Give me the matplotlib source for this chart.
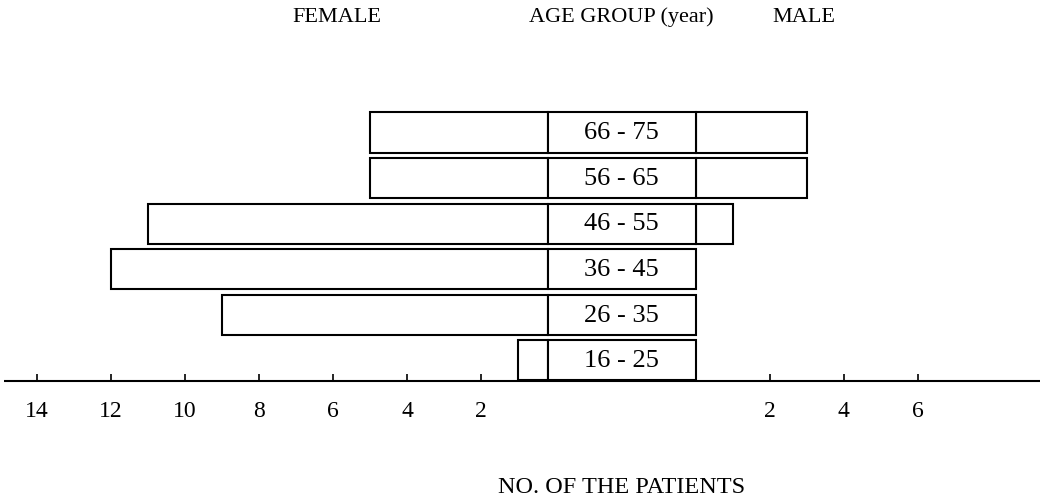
import matplotlib
matplotlib.use("Agg")
import matplotlib.pyplot as plt

age_groups = ["16 - 25", "26 - 35", "36 - 45", "46 - 55", "56 - 65", "66 - 75"]
female = [1, 9, 12, 11, 5, 5]
male = [0, 0, 0, 1, 3, 3]
female_ticks = [14, 12, 10, 8, 6, 4, 2]
male_ticks = [2, 4, 6]

plt.rcParams['font.family'] = ['Liberation Serif', 'DejaVu Serif']

BOX = 2.0      # half width of the central label box
FZ = -1.8      # female zero on the axis
MZ = 2.0       # male zero on the axis
H = 0.88
LW = 1.5

fig = plt.figure(figsize=(10.4, 4.99), dpi=100)
ax = fig.add_axes([0, 0, 1, 1])
ax.set_xlim(-16.8, 11.31)
ax.set_ylim(-3.05, 7.91)
ax.axis('off')

ys = list(range(len(age_groups)))
# central label boxes
ax.barh(ys, [2 * BOX] * len(ys), left=-BOX, height=H, color='white',
        edgecolor='black', linewidth=LW, zorder=3)
for y, lab in zip(ys, age_groups):
    ax.text(0, y - 0.02, lab, ha='center', va='center', fontsize=19, zorder=4)

# female bars
for y, v in zip(ys, female):
    if v > 0:
        ax.barh(y, (-BOX) - (FZ - v), left=FZ - v, height=H, color='white',
                edgecolor='black', linewidth=LW, zorder=2)
# male bars
for y, v in zip(ys, male):
    if v > 0:
        ax.barh(y, (MZ + v) - BOX, left=BOX, height=H, color='white',
                edgecolor='black', linewidth=LW, zorder=2)

# axis line
y_axis = -0.46
ax.hlines(y_axis, -16.7, 11.31, color='black', linewidth=LW, zorder=5)
tick_h = 0.15
for t in female_ticks:
    ax.vlines(FZ - t, y_axis, y_axis + tick_h, color='black', linewidth=1.2)
    ax.text(FZ - t, -1.12, str(t), ha='center', va='center', fontsize=17)
for t in male_ticks:
    ax.vlines(MZ + t, y_axis, y_axis + tick_h, color='black', linewidth=1.2)
    ax.text(MZ + t, -1.12, str(t), ha='center', va='center', fontsize=17)

# headers
ax.text(-7.7, 7.53, "FEMALE", ha='center', va='center', fontsize=16)
ax.text(0, 7.53, "AGE GROUP (year)", ha='center', va='center', fontsize=16)
ax.text(4.94, 7.53, "MALE", ha='center', va='center', fontsize=16)
ax.text(0, -2.79, "NO. OF THE PATIENTS", ha='center', va='center', fontsize=17.5)

fig.savefig("out.png", dpi=100)
